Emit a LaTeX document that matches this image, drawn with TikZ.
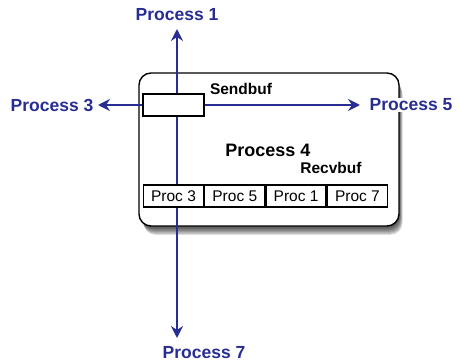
\documentclass[tikz,border=0pt]{standalone}
\usepackage{fontspec}
\setmainfont{Liberation Sans}
\usetikzlibrary{arrows.meta}
\definecolor{procblue}{RGB}{40,45,145}
\begin{document}
\begin{tikzpicture}[x=1pt,y=-1pt,
  conn/.style={draw=procblue,line width=2.8pt,-{Stealth[length=12pt,width=12pt,inset=4pt]}},
  plabel/.style={text=procblue,font=\fontsize{17.5}{18}\selectfont\bfseries,inner sep=1pt},
  blabel/.style={text=black,font=\fontsize{15.5}{16}\selectfont\bfseries,inner sep=1pt},
  cell/.style={draw=black,line width=1.3pt,fill=white,minimum width=60pt,minimum height=22pt,inner sep=0pt,font=\fontsize{15.5}{16}\selectfont},
  sendbox/.style={draw=black,line width=1.3pt,fill=white,minimum width=61pt,minimum height=22pt,inner sep=0pt}]
\useasboundingbox (0,0) rectangle (459,364);
% shadow of the process box
\foreach \d in {1,...,9}
  \fill[black,opacity=0.13,rounded corners=12pt] (140+0.4*\d,72+1.1*\d) rectangle (398+0.5*\d,225+1.1*\d);
% process box
\node[draw=black,line width=1.4pt,fill=white,rounded corners=12pt,minimum width=260pt,minimum height=153pt,inner sep=0pt] (pbox) at (269,149.5) {};
% labels
\node[plabel] (p1) at (177,15) {Process 1};
\node[plabel] (p3) at (52,105) {Process 3};
\node[plabel,fill=white] (p5) at (411,105) {Process 5};
\node[plabel] (p7) at (204,353) {Process 7};
% arrow end points
\coordinate (t1) at (177,29);
\coordinate (t3) at (98,105);
\coordinate (t5) at (360,105);
\coordinate (t7) at (177,338);
% send buffer
\node[sendbox] (send) at (173.5,105) {};
% connectors
\draw[conn] (send.north -| t1) -- (t1);
\draw[conn] (send.south -| t7) -- (t7);
\draw[conn] (send.west) -- (t3);
\draw[conn] (send.east) -- (t5);
\node[sendbox] at (send) {};
% receive buffer
\node[cell] (c1) at (173.5,196) {Proc 3};
\node[cell,anchor=west] (c2) at (c1.east) {Proc 5};
\node[cell,anchor=west] (c3) at (c2.east) {Proc 1};
\node[cell,anchor=west] (c4) at (c3.east) {Proc 7};
% texts
\node[blabel] (sendlbl) at (241,89) {Sendbuf};
\node[text=black,font=\fontsize{18}{19}\selectfont\bfseries,inner sep=1pt] (p4) at (268,150) {Process 4};
\node[blabel] (recvlbl) at (331,168) {Recvbuf};
\end{tikzpicture}
\end{document}
